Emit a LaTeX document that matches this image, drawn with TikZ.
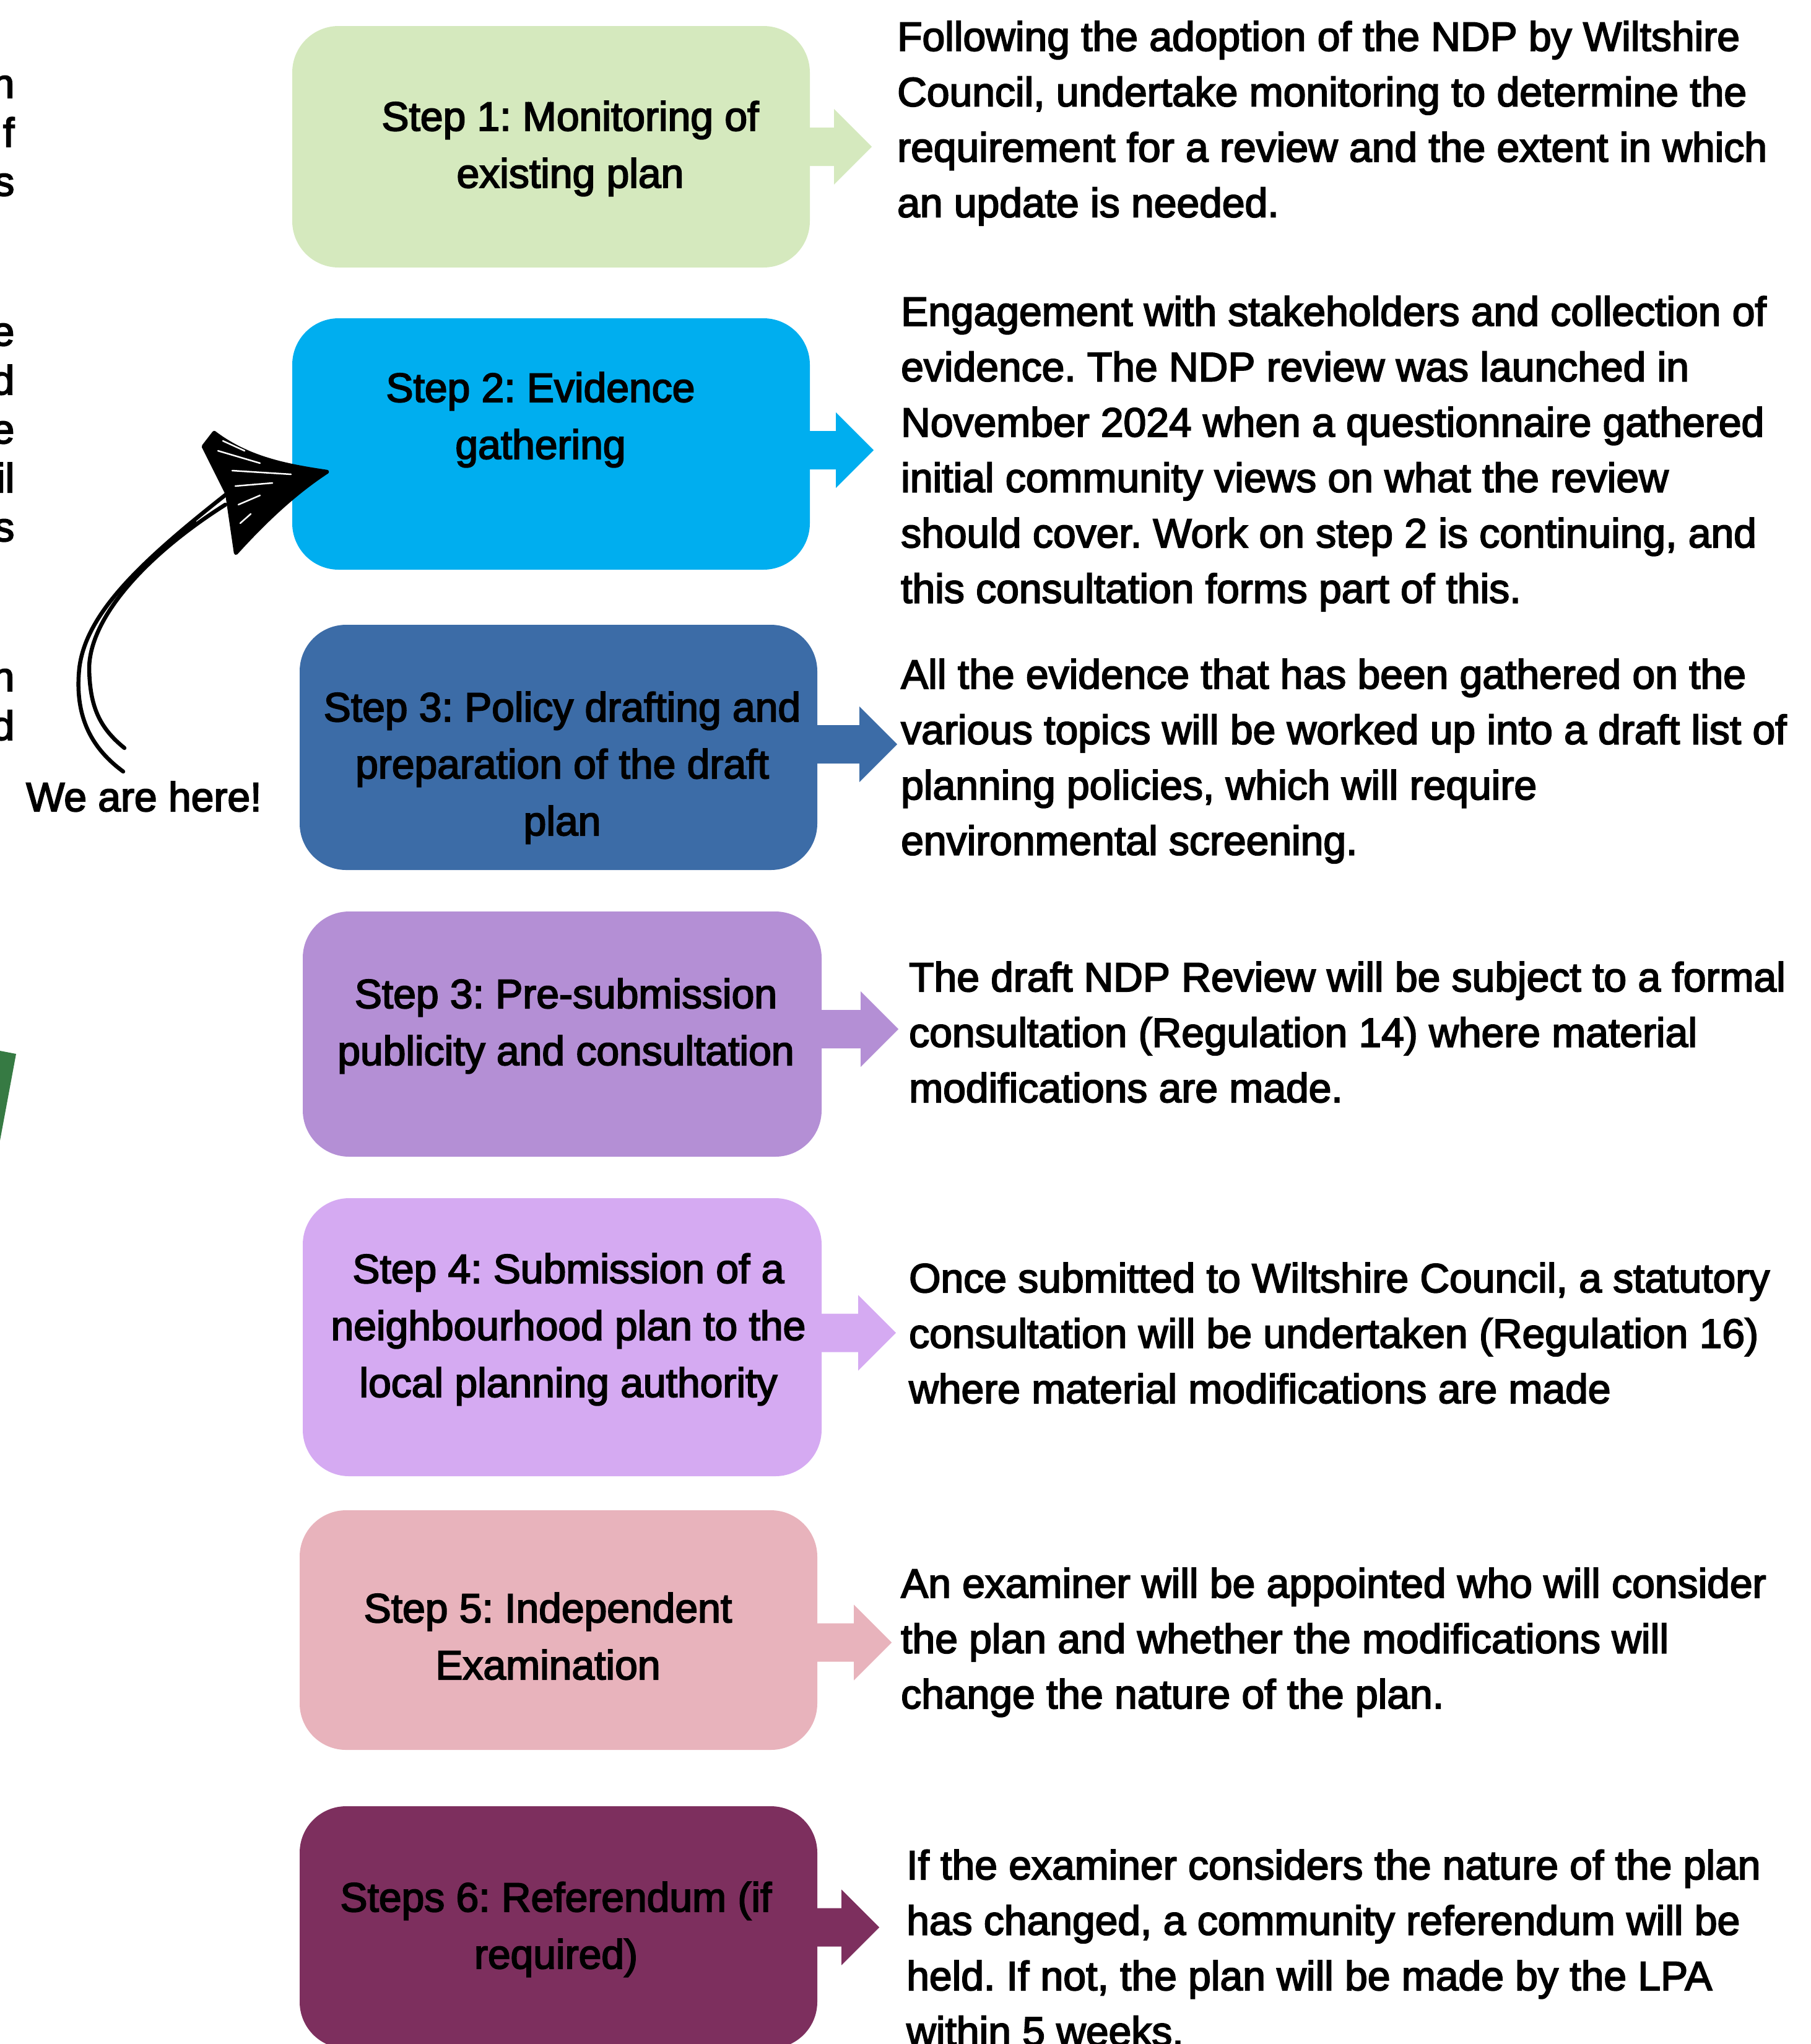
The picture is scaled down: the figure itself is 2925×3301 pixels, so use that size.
\documentclass[tikz,border=0pt]{standalone}
\usepackage{fontspec}
\usetikzlibrary{calc}
\newfontfamily\mainf{Liberation Sans}[FakeBold=3]
\frenchspacing
\definecolor{cA}{HTML}{D5E9BE}
\definecolor{cB}{HTML}{00AEEF}
\definecolor{cC}{HTML}{3C6CA7}
\definecolor{cD}{HTML}{B48FD5}
\definecolor{cE}{HTML}{D5AAF2}
\definecolor{cF}{HTML}{E8B3BC}
\definecolor{cG}{HTML}{7D2F5E}
\definecolor{cGreen}{HTML}{367A43}
\newcommand\rowc[1]{\hbox to 0pt{\hss#1\hss}}
\newcommand\rowl[1]{\hbox{#1}}
\newcommand\barrow[4]{%
  \fill[#3] ($(#1.east)+(-2,#4-31)$) -- ++(#2+2,0) -- ++(0,-30) -- ++(61,61)
     -- ++(-61,61) -- ++(0,-30) -- ++(-#2-2,0) -- cycle;}
\begin{document}
\begin{tikzpicture}[x=1pt,y=-1pt,
  stepbox/.style={rectangle, rounded corners=75pt, draw=none, inner sep=0pt},
  boxtext/.style={inner sep=0pt, anchor=base, font=\mainf\frenchspacing\fontsize{66}{92}\selectfont},
  desctext/.style={inner sep=0pt, anchor=base west, font=\mainf\frenchspacing\fontsize{66}{89.5}\selectfont},
  edgetext/.style={inner sep=0pt, anchor=base east, font=\mainf\fontsize{66}{79}\selectfont},
  sketch/.style={line width=6.5pt, line cap=round, line join=round}]
\useasboundingbox (0,0) rectangle (2925,3301);
\clip (0,0) rectangle (2925,3301);

% boxes
\node[stepbox, fill=cA, minimum width=836pt, minimum height=390pt] (b1) at (890,237) {};
\node[stepbox, fill=cB, minimum width=836pt, minimum height=406pt] (b2) at (890,717) {};
\node[stepbox, fill=cC, minimum width=836pt, minimum height=396pt] (b3) at (902,1207) {};
\node[stepbox, fill=cD, minimum width=838pt, minimum height=396pt] (b4) at (908,1670) {};
\node[stepbox, fill=cE, minimum width=838pt, minimum height=449pt] (b5) at (908,2159.5) {};
\node[stepbox, fill=cF, minimum width=836pt, minimum height=387pt] (b6) at (902,2632.5) {};
\node[stepbox, fill=cG, minimum width=836pt, minimum height=391pt] (b7) at (902,3112.5) {};

% block arrows
\barrow{b1}{39}{cA}{0}
\barrow{b2}{42}{cB}{10}
\barrow{b3}{68}{cC}{-5}
\barrow{b4}{63}{cD}{-8}
\barrow{b5}{59}{cE}{-7}
\barrow{b6}{59}{cF}{20}
\barrow{b7}{39}{cG}{0}

% box labels
\node[boxtext] (s1) at (921,211) {\vtop{\rowc{Step 1: Monitoring of}\rowc{existing plan}}};
\node[boxtext] (s2) at (873,649) {\vtop{\rowc{Step 2: Evidence}\rowc{gathering}}};
\node[boxtext] (s3) at (908,1165) {\vtop{\rowc{Step 3: Policy drafting and}\rowc{preparation of the draft}\rowc{plan}}};
\node[boxtext] (s4) at (914,1628) {\vtop{\rowc{Step 3: Pre-submission}\rowc{publicity and consultation}}};
\node[boxtext] (s5) at (918,2072) {\vtop{\rowc{Step 4: Submission of a}\rowc{neighbourhood plan to the}\rowc{local planning authority}}};
\node[boxtext] (s6) at (885,2620) {\vtop{\rowc{Step 5: Independent}\rowc{Examination}}};
\node[boxtext] (s7) at (898,3087) {\vtop{\rowc{Steps 6: Referendum (if}\rowc{required)}}};

% descriptions
\node[desctext] (d1) at (1449,82) {\vtop{\rowl{Following the adoption of the NDP by Wiltshire}\rowl{Council, undertake monitoring to determine the}\rowl{requirement for a review and the extent in which}\rowl{an update is needed.}}};
\node[desctext] (d2) at (1455,526) {\vtop{\rowl{Engagement with stakeholders and collection of}\rowl{evidence. The NDP review was launched in}\rowl{November 2024 when a questionnaire gathered}\rowl{initial community views on what the review}\rowl{should cover. Work on step 2 is continuing, and}\rowl{this consultation forms part of this.}}};
\node[desctext] (d3) at (1455,1112) {\vtop{\rowl{All the evidence that has been gathered on the}\rowl{various topics will be worked up into a draft list of}\rowl{planning policies, which will require}\rowl{environmental screening.}}};
\node[desctext] (d4) at (1468,1601) {\vtop{\rowl{The draft NDP Review will be subject to a formal}\rowl{consultation (Regulation 14) where material}\rowl{modifications are made.}}};
\node[desctext] (d5) at (1468,2087) {\vtop{\rowl{Once submitted to Wiltshire Council, a statutory}\rowl{consultation will be undertaken (Regulation 16)}\rowl{where material modifications are made}}};
\node[desctext] (d6) at (1455,2580) {\vtop{\rowl{An examiner will be appointed who will consider}\rowl{the plan and whether the modifications will}\rowl{change the nature of the plan.}}};
\node[desctext] (d7) at (1464,3035) {\vtop{\rowl{If the examiner considers the nature of the plan}\rowl{has changed, a community referendum will be}\rowl{held. If not, the plan will be made by the LPA}\rowl{within 5 weeks.}}};

% cut-off text at the left edge
\node[edgetext] (e1) at (24,158) {\vtop{\hbox to 0pt{\hss n}\hbox to 0pt{\hss f}\hbox to 0pt{\hss s}}};
\node[edgetext] (e2) at (24,558) {\vtop{\hbox to 0pt{\hss e}\hbox to 0pt{\hss d}\hbox to 0pt{\hss e}\hbox to 0pt{\hss il}\hbox to 0pt{\hss s}}};
\node[edgetext] (e3) at (24,1116) {\vtop{\hbox to 0pt{\hss n}\hbox to 0pt{\hss d}}};

% green shape at the left edge
\fill[cGreen] (0,1697) -- (26,1702) -- (0,1842) -- cycle;

% "We are here!" with hand-drawn arrow
\node[desctext] (here) at (42,1310) {We are here!};
\coordinate (h1) at (199,1246);
\coordinate (h2) at (201,1208);
\coordinate (n1) at (367,797);
\coordinate (n2) at (364,815);
\draw[sketch] (h1) .. controls (150,1210) and (120,1160) .. (128,1080)
   .. controls (138,990) and (230,905) .. (n1);
\draw[sketch] (h2) .. controls (160,1175) and (145,1140) .. (144,1079)
   .. controls (145,1000) and (230,900) .. (n2);
\draw[sketch] (256,891) -- (314,842);
\coordinate (tip) at (528,762);
\filldraw[sketch] (346,699) .. controls (400,740) and (460,752) .. (tip)
   .. controls (470,800) and (420,850) .. (381,893)
   -- (367,797) -- (329,721) -- cycle;
\draw[white, line width=2.5pt, line cap=round] (352,728) -- (420,748) (375,760) -- (470,766)
   (380,785) -- (440,780) (385,815) -- (420,800) (388,845) -- (405,830)
   (360,712) -- (395,728);
\end{tikzpicture}
\end{document}
